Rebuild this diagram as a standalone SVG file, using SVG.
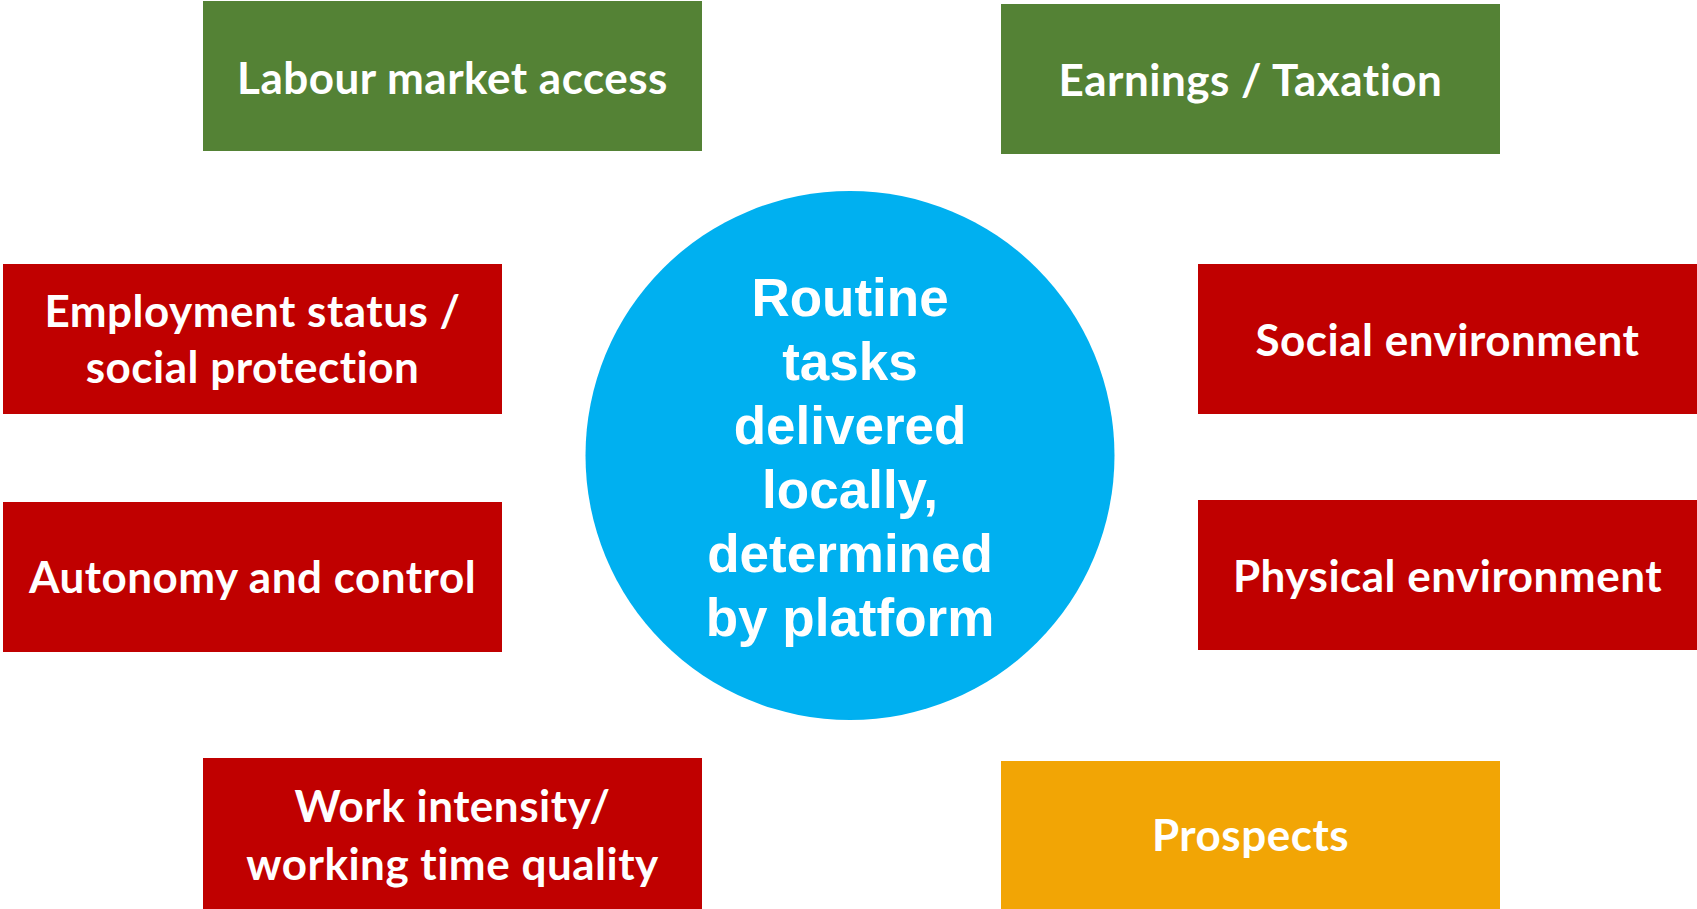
<svg xmlns="http://www.w3.org/2000/svg" width="1697" height="909" viewBox="0 0 1697 909">
<style>
.box text{font-family:Lato,"Open Sans","Liberation Sans",sans-serif;font-weight:bold;font-size:44px;letter-spacing:0.5px;font-variant-ligatures:none;fill:#fff;text-anchor:middle}
.green{fill:#548235}
.red{fill:#C00000}
.orange{fill:#F2A505}
.hub text{font-family:"Liberation Sans",Arial,sans-serif;font-weight:bold;font-size:53px;fill:#fff;text-anchor:middle}
</style>
<rect width="1697" height="909" fill="#fff"/>
<g id="connectors"></g>
<g id="hub" class="hub">
<circle cx="850" cy="455.5" r="264.5" fill="#00B0F0"/>
<text x="850" y="316">Routine</text>
<text x="850" y="380">tasks</text>
<text x="850" y="444">delivered</text>
<text x="850" y="508">locally,</text>
<text x="850" y="572">determined</text>
<text x="850" y="636">by platform</text>
</g>
<g id="labour" class="box"><rect class="green" x="203" y="1" width="499" height="150"/><text x="452.5" y="94">Labour market access</text></g>
<g id="earnings" class="box"><rect class="green" x="1001" y="4" width="499" height="150"/><text x="1250.5" y="96">Earnings / Taxation</text></g>
<g id="employment" class="box"><rect class="red" x="3" y="264" width="499" height="150"/><text x="252.5" y="327">Employment status /</text><text x="252.5" y="383">social protection</text></g>
<g id="autonomy" class="box"><rect class="red" x="3" y="502" width="499" height="150"/><text x="252.5" y="593">Autonomy and control</text></g>
<g id="social" class="box"><rect class="red" x="1198" y="264" width="499" height="150"/><text x="1447.5" y="356">Social environment</text></g>
<g id="physical" class="box"><rect class="red" x="1198" y="500" width="499" height="150"/><text x="1447.5" y="592">Physical environment</text></g>
<g id="workintensity" class="box"><rect class="red" x="203" y="758" width="499" height="151"/><text x="452.5" y="822">Work intensity/</text><text x="452.5" y="880">working time quality</text></g>
<g id="prospects" class="box"><rect class="orange" x="1001" y="761" width="499" height="148"/><text x="1250.5" y="851">Prospects</text></g>
</svg>
